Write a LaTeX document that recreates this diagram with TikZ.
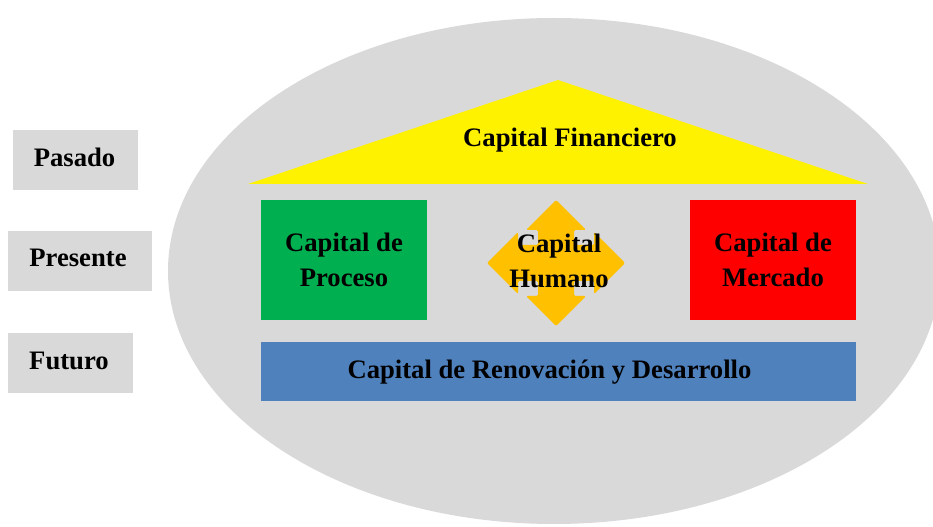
\documentclass[tikz,border=0pt]{standalone}
\usepackage{fontspec}
\setmainfont{Liberation Serif}
\usepackage{tikz}
\usepackage{xcolor}
\definecolor{soft-gray}{HTML}{D9D9D9}
\definecolor{leaf-green}{HTML}{00B050}
\definecolor{steel-blue}{HTML}{4F81BD}
\definecolor{amber}{HTML}{FFC000}
\tikzset{
    capital-font/.style = {font=\fontsize{20}{26}\selectfont\bfseries, align=center, text=black},
    time-box/.style = {fill=soft-gray, rectangle, minimum height=45pt, inner sep=0pt},
    capital-box/.style = {capital-font, rectangle, inner sep=0pt, minimum width=124.5pt, minimum height=90pt},
}

\begin{document}
\begin{tikzpicture}[x=0.75pt, y=-0.75pt]
\clip (0,0) rectangle (933,527);
\fill[soft-gray] (554,271) ellipse [x radius=386, y radius=253];
\fill[yellow] (248,184) -- (558,80) -- (868,184) -- cycle;
\node[capital-font] (financiero) at (570,140) {Capital Financiero};
\node[time-box, minimum width=93.75pt] (pasado) at (75.5,160) {};
\node[capital-font] (pasado-text) at (74.5,157) {Pasado};
\node[time-box, minimum width=108pt] (presente) at (80,261) {};
\node[capital-font] (presente-text) at (78,258) {Presente};
\node[time-box, minimum width=93.75pt] (futuro) at (70.5,363) {};
\node[capital-font] (futuro-text) at (69,361) {Futuro};
\node[capital-box, fill=leaf-green] (proceso) at (344,260) {Capital de\\Proceso};
\node[capital-box, fill=red] (mercado) at (773,260) {Capital de\\Mercado};
\fill[amber, rounded corners=1pt, shift={(556,263)}]
    (0,-63) -- (30,-33) -- (18,-33) -- (18,-18) -- (38,-18) -- (38,-31)
    -- (69,0) -- (38,31) -- (38,18) -- (18,18) -- (18,33) -- (30,33)
    -- (0,63) -- (-30,33) -- (-18,33) -- (-18,18) -- (-38,18) -- (-38,31)
    -- (-69,0) -- (-38,-31) -- (-38,-18) -- (-18,-18) -- (-18,-33) -- (-30,-33) -- cycle;
\node[capital-font] (humano) at (559,261) {Capital\\Humano};
\node[time-box, fill=steel-blue, minimum width=446.25pt, minimum height=44.25pt] (renovacion) at (558.5,371.5) {};
\node[capital-font] (renovacion-text) at (549.5,372.5) {Capital de Renovación y Desarrollo};
\end{tikzpicture}
\end{document}
